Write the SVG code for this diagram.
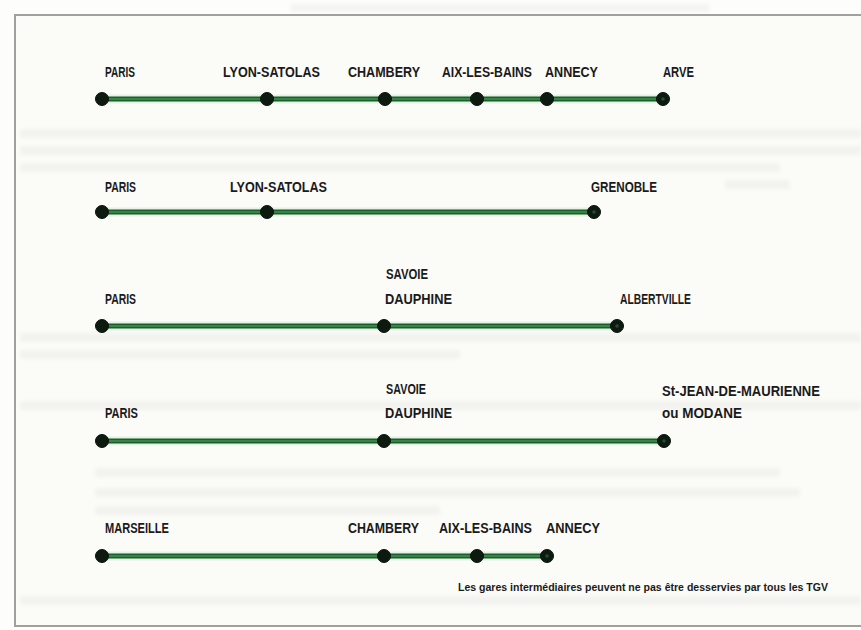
<svg xmlns="http://www.w3.org/2000/svg" width="861" height="630" viewBox="0 0 861 630">
  <defs>
    <filter id="soft" x="-5%" y="-100%" width="110%" height="300%">
      <feGaussianBlur stdDeviation="2.2"/>
    </filter>
    <style>
      .track-edge { stroke: #1d5c2b; stroke-width: 5; stroke-linecap: round; fill: none; }
      .track-core { stroke: #358645; stroke-width: 2.2; stroke-linecap: round; fill: none; }
      .halo { stroke: #d6ecd9; stroke-width: 9; stroke-linecap: round; fill: none; opacity: 0.6; }
      .stop { fill: #0d1a10; stroke: #0a140c; stroke-width: 1; }
      .stop-core { fill: #2a4a30; }
      .lbl { font-family: "Liberation Sans Narrow", "Liberation Sans", Arial, sans-serif; font-weight: bold; font-size: 14.5px; fill: #1a1a1a; }
      .note { font-family: "Liberation Sans Narrow", "Liberation Sans", Arial, sans-serif; font-weight: bold; font-size: 10px; fill: #1a1a1a; }
      .ghost { fill: #000; opacity: 0.035; filter: url(#soft); }
    </style>
  </defs>

  <!-- paper -->
  <rect x="0" y="0" width="861" height="630" fill="#fdfdfb"/>
  <rect x="15" y="15" width="860" height="611" fill="#fbfbf8" stroke="#a0a0a0" stroke-width="2"/>

  <!-- faint show-through from the reverse side of the sheet -->
  <g id="show-through">
    <rect class="ghost" x="290" y="4" width="420" height="8"/>
    <rect class="ghost" x="20" y="129" width="841" height="9"/>
    <rect class="ghost" x="20" y="146" width="841" height="9"/>
    <rect class="ghost" x="20" y="163" width="760" height="9"/>
    <rect class="ghost" x="725" y="180" width="65" height="9"/>
    <rect class="ghost" x="20" y="333" width="841" height="9"/>
    <rect class="ghost" x="20" y="350" width="440" height="9"/>
    <rect class="ghost" x="20" y="401" width="841" height="9"/>
    <rect class="ghost" x="95" y="468" width="685" height="9"/>
    <rect class="ghost" x="95" y="488" width="705" height="9"/>
    <rect class="ghost" x="95" y="506" width="345" height="9"/>
    <rect class="ghost" x="20" y="596" width="841" height="9"/>
  </g>

  <!-- rail lines -->
  <g id="connectors">
    <line class="halo" x1="102" y1="99" x2="663" y2="99"/>
    <line class="track-edge" x1="102" y1="99" x2="663" y2="99"/>
    <line class="track-core" x1="102" y1="99" x2="663" y2="99"/>

    <line class="halo" x1="102" y1="212" x2="594" y2="212"/>
    <line class="track-edge" x1="102" y1="212" x2="594" y2="212"/>
    <line class="track-core" x1="102" y1="212" x2="594" y2="212"/>

    <line class="halo" x1="102" y1="326" x2="617" y2="326"/>
    <line class="track-edge" x1="102" y1="326" x2="617" y2="326"/>
    <line class="track-core" x1="102" y1="326" x2="617" y2="326"/>

    <line class="halo" x1="102" y1="441" x2="664" y2="441"/>
    <line class="track-edge" x1="102" y1="441" x2="664" y2="441"/>
    <line class="track-core" x1="102" y1="441" x2="664" y2="441"/>

    <line class="halo" x1="102" y1="556" x2="547" y2="556"/>
    <line class="track-edge" x1="102" y1="556" x2="547" y2="556"/>
    <line class="track-core" x1="102" y1="556" x2="547" y2="556"/>
  </g>

  <!-- route 1: Paris - Arve -->
  <g id="r1-paris"><circle class="stop" cx="102" cy="99" r="6.5"/><text class="lbl" x="105" y="77" textLength="30" lengthAdjust="spacingAndGlyphs">PARIS</text></g>
  <g id="r1-lyon"><circle class="stop" cx="267" cy="99" r="6.5"/><text class="lbl" x="223" y="77" textLength="97" lengthAdjust="spacingAndGlyphs">LYON-SATOLAS</text></g>
  <g id="r1-chambery"><circle class="stop" cx="385" cy="99" r="6.5"/><text class="lbl" x="348" y="77" textLength="72" lengthAdjust="spacingAndGlyphs">CHAMBERY</text></g>
  <g id="r1-aix"><circle class="stop" cx="477" cy="99" r="6.5"/><text class="lbl" x="442" y="77" textLength="90" lengthAdjust="spacingAndGlyphs">AIX-LES-BAINS</text></g>
  <g id="r1-annecy"><circle class="stop" cx="547" cy="99" r="6.5"/><text class="lbl" x="545" y="77" textLength="53" lengthAdjust="spacingAndGlyphs">ANNECY</text></g>
  <g id="r1-arve"><circle class="stop" cx="663" cy="99" r="6.5"/><circle class="stop-core" cx="663" cy="99" r="1.8"/><text class="lbl" x="663" y="77" textLength="31" lengthAdjust="spacingAndGlyphs">ARVE</text></g>

  <!-- route 2: Paris - Grenoble -->
  <g id="r2-paris"><circle class="stop" cx="102" cy="212" r="6.5"/><text class="lbl" x="105" y="192" textLength="31" lengthAdjust="spacingAndGlyphs">PARIS</text></g>
  <g id="r2-lyon"><circle class="stop" cx="267" cy="212" r="6.5"/><text class="lbl" x="230" y="192" textLength="97" lengthAdjust="spacingAndGlyphs">LYON-SATOLAS</text></g>
  <g id="r2-grenoble"><circle class="stop" cx="594" cy="212" r="6.5"/><circle class="stop-core" cx="594" cy="212" r="1.8"/><text class="lbl" x="591" y="192" textLength="66" lengthAdjust="spacingAndGlyphs">GRENOBLE</text></g>

  <!-- route 3: Paris - Albertville -->
  <g id="r3-paris"><circle class="stop" cx="102" cy="326" r="6.5"/><text class="lbl" x="105" y="304" textLength="31" lengthAdjust="spacingAndGlyphs">PARIS</text></g>
  <g id="r3-savoie"><circle class="stop" cx="384" cy="326" r="6.5"/><text class="lbl" x="386" y="279" textLength="42" lengthAdjust="spacingAndGlyphs">SAVOIE</text><text class="lbl" x="385" y="304" textLength="67" lengthAdjust="spacingAndGlyphs">DAUPHINE</text></g>
  <g id="r3-albertville"><circle class="stop" cx="617" cy="326" r="6.5"/><circle class="stop-core" cx="617" cy="326" r="1.8"/><text class="lbl" x="620" y="304" textLength="71" lengthAdjust="spacingAndGlyphs">ALBERTVILLE</text></g>

  <!-- route 4: Paris - St-Jean-de-Maurienne / Modane -->
  <g id="r4-paris"><circle class="stop" cx="102" cy="441" r="6.5"/><text class="lbl" x="105" y="418" textLength="33" lengthAdjust="spacingAndGlyphs">PARIS</text></g>
  <g id="r4-savoie"><circle class="stop" cx="384" cy="441" r="6.5"/><text class="lbl" x="386" y="394" textLength="40" lengthAdjust="spacingAndGlyphs">SAVOIE</text><text class="lbl" x="385" y="418" textLength="67" lengthAdjust="spacingAndGlyphs">DAUPHINE</text></g>
  <g id="r4-stjean"><circle class="stop" cx="664" cy="441" r="6.5"/><circle class="stop-core" cx="664" cy="441" r="1.8"/><text class="lbl" x="662" y="396" textLength="158" lengthAdjust="spacingAndGlyphs">St-JEAN-DE-MAURIENNE</text><text class="lbl" x="662" y="418" textLength="80" lengthAdjust="spacingAndGlyphs">ou MODANE</text></g>

  <!-- route 5: Marseille - Annecy -->
  <g id="r5-marseille"><circle class="stop" cx="102" cy="556" r="6.5"/><text class="lbl" x="105" y="533" textLength="64" lengthAdjust="spacingAndGlyphs">MARSEILLE</text></g>
  <g id="r5-chambery"><circle class="stop" cx="384" cy="556" r="6.5"/><text class="lbl" x="348" y="533" textLength="71" lengthAdjust="spacingAndGlyphs">CHAMBERY</text></g>
  <g id="r5-aix"><circle class="stop" cx="477" cy="556" r="6.5"/><text class="lbl" x="439" y="533" textLength="93" lengthAdjust="spacingAndGlyphs">AIX-LES-BAINS</text></g>
  <g id="r5-annecy"><circle class="stop" cx="547" cy="556" r="6.5"/><circle class="stop-core" cx="547" cy="556" r="1.8"/><text class="lbl" x="546" y="533" textLength="54" lengthAdjust="spacingAndGlyphs">ANNECY</text></g>

  <!-- footnote -->
  <text class="note" x="458" y="591" textLength="370" lengthAdjust="spacingAndGlyphs">Les gares intermédiaires peuvent ne pas être desservies par tous les TGV</text>
</svg>
